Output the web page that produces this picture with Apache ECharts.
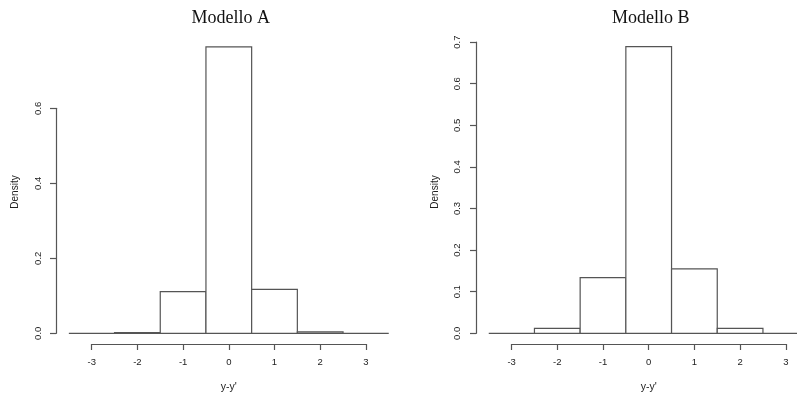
<!DOCTYPE html>
<html><head><meta charset="utf-8">
<script src="https://cdn.jsdelivr.net/npm/echarts@6/dist/echarts.min.js"></script>
<style>html,body{margin:0;padding:0;background:#fff}#c{width:797px;height:394px}</style>
</head><body><div id="c"></div>
<script>
// Data
const breaks = [-3.5, -2.5, -1.5, -0.5, 0.5, 1.5, 2.5, 3.5];
const densityA = [0, 0.002, 0.111, 0.764, 0.117, 0.004, 0];
const densityB = [0, 0.012, 0.134, 0.689, 0.155, 0.012, 0];
const xTicks = [-3, -2, -1, 0, 1, 2, 3];
const titles = ['Modello A', 'Modello B'];
const xLabel = "y-y'";
const yLabel = 'Density';

const chart = echarts.init(document.getElementById('c'), null, {renderer: 'canvas'});
const lineCol = '#555';
const txtCol = '#222';
const sans = 'Liberation Sans, Arial, sans-serif';
const unit = 45.7;
const panels = [
  {x0: 228.8, yAxisX: 56, yScale: 375, yMax: 0.6, yInt: 0.2, dens: densityA, labMargin: 13, densX: 15},
  {x0: 648.7, yAxisX: 476, yScale: 416, yMax: 0.7, yInt: 0.1, dens: densityB, labMargin: 14, densX: 435}
];
const yZero = 333.3, xAxisY = 344.3;

const grid = [], xAxis = [], yAxis = [], series = [], title = [], graphic = [];
panels.forEach((p, i) => {
  const barMax = 0.8;
  // bars grid (spans -3.5 .. 3.0 so it fits the canvas; last bin extends past via the same scale)
  grid.push({left: p.x0 - 3.5 * unit, width: 6.5 * unit, top: yZero - barMax * p.yScale, height: barMax * p.yScale});
  xAxis.push({type: 'value', gridIndex: grid.length - 1, min: breaks[0], max: 3, show: false});
  yAxis.push({type: 'value', gridIndex: grid.length - 1, min: 0, max: barMax, show: false});
  const bi = grid.length - 1;
  const data = p.dens.map((d, k) => [breaks[k], breaks[k + 1], d]);
  series.push({
    type: 'custom', xAxisIndex: bi, yAxisIndex: bi, data: data, clip: false,
    renderItem: function (params, api) {
      const a = api.coord([api.value(0), api.value(2)]);
      const b = api.coord([api.value(1), 0]);
      return {type: 'rect', shape: {x: a[0], y: a[1], width: b[0] - a[0], height: b[1] - a[1]},
        style: {fill: '#fff', stroke: lineCol, lineWidth: 1.2}};
    }
  });
  // y axis grid
  grid.push({left: p.yAxisX, width: 10, top: yZero - p.yMax * p.yScale, height: p.yMax * p.yScale});
  xAxis.push({type: 'value', gridIndex: grid.length - 1, show: false});
  yAxis.push({type: 'value', gridIndex: grid.length - 1, min: 0, max: p.yMax, interval: p.yInt,
    splitLine: {show: false},
    axisLine: {show: true, lineStyle: {color: lineCol, width: 1.2}},
    axisTick: {show: true, length: 6, lineStyle: {color: lineCol, width: 1.2}},
    axisLabel: {rotate: 90, margin: p.labMargin, color: txtCol, fontFamily: sans, fontSize: 9.5,
      formatter: v => v.toFixed(1)}
  });
  // x axis grid
  grid.push({left: p.x0 - 3 * unit, width: 6 * unit, top: xAxisY - 14, height: 14});
  xAxis.push({type: 'value', gridIndex: grid.length - 1, min: xTicks[0], max: xTicks[xTicks.length - 1], interval: 1,
    splitLine: {show: false},
    axisLine: {show: true, lineStyle: {color: lineCol, width: 1.2}},
    axisTick: {show: true, length: 6, lineStyle: {color: lineCol, width: 1.2}},
    axisLabel: {margin: 13.5, color: txtCol, fontFamily: sans, fontSize: 9.5},
    name: xLabel, nameLocation: 'middle', nameGap: 38,
    nameTextStyle: {color: txtCol, fontFamily: sans, fontSize: 10.5}
  });
  yAxis.push({type: 'value', gridIndex: grid.length - 1, show: false});
  title.push({text: titles[i], left: p.x0 + 2, top: 9, textAlign: 'center', padding: 0,
    textStyle: {fontFamily: 'Liberation Serif, Times New Roman, serif', fontSize: 18, fontWeight: 'normal', color: '#111'}});
  graphic.push({type: 'text', x: p.densX, y: 192, rotation: Math.PI / 2,
    style: {text: yLabel, fill: txtCol, font: '10px ' + sans, align: 'center', verticalAlign: 'middle'}});
});

chart.setOption({animation: false, backgroundColor: '#fff', title, grid, xAxis, yAxis, series, graphic});
</script></body></html>
